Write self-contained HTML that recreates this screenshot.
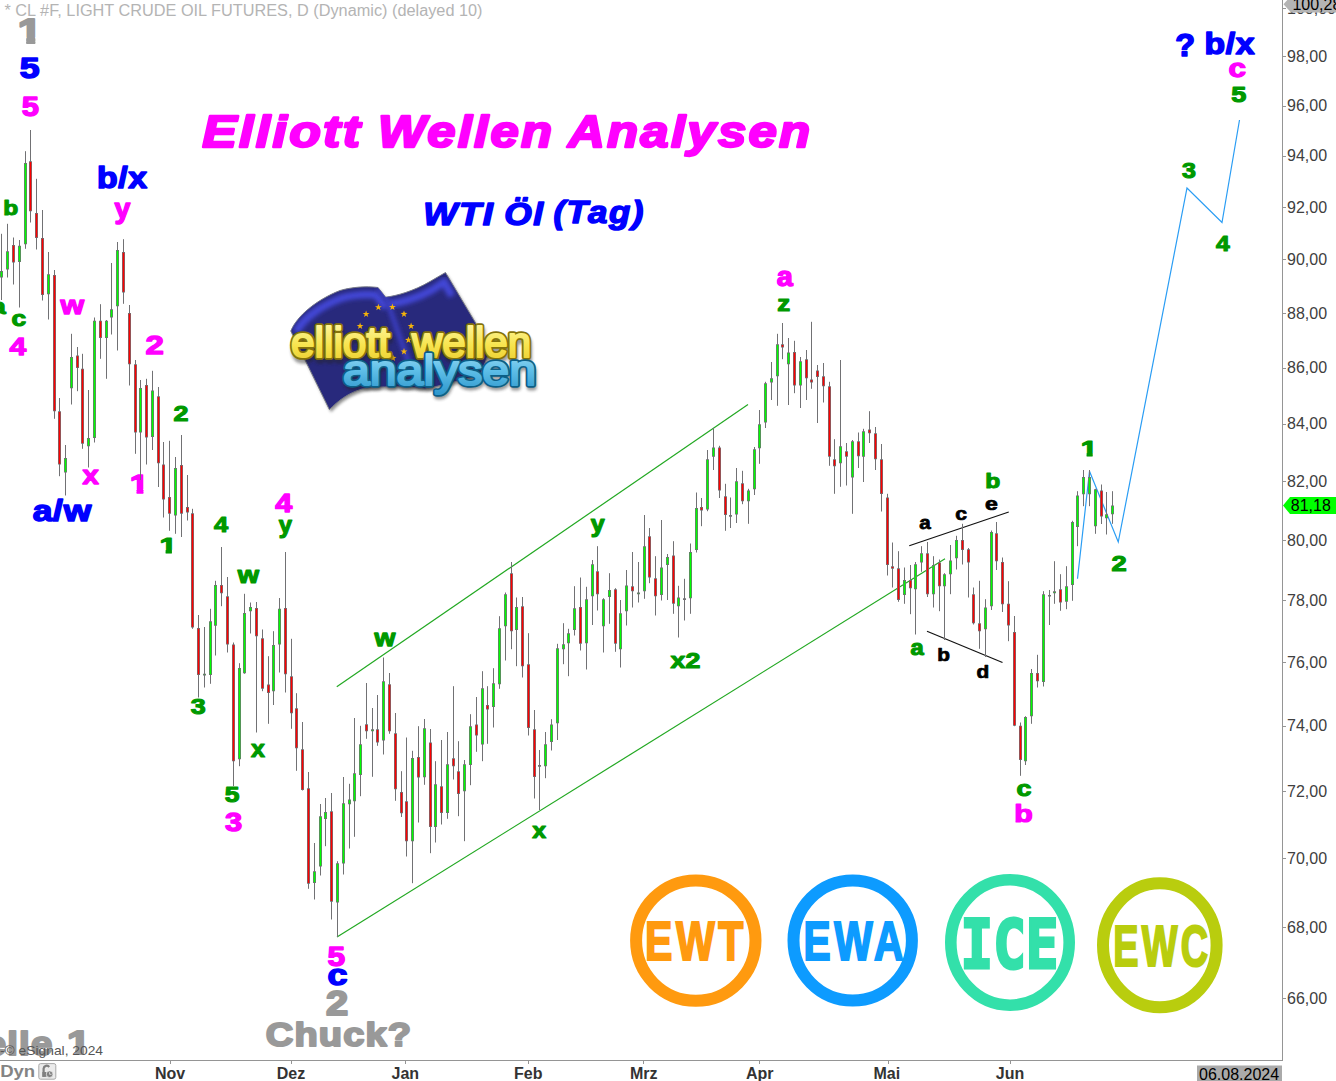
<!DOCTYPE html>
<html><head><meta charset="utf-8"><title>Elliott Wellen Analysen - WTI Öl (Tag)</title>
<style>html,body{margin:0;padding:0;background:#fff;overflow:hidden}svg{display:block}text{font-family:"Liberation Sans",sans-serif}.b{font-weight:bold}.bi{font-weight:bold;font-style:italic}.ax{font-size:16px;fill:#404040}.mo{font-size:16px;font-weight:bold;fill:#333}</style></head><body>
<svg width="1336" height="1081" viewBox="0 0 1336 1081">
<rect width="1336" height="1081" fill="#fff"/>
<text x="4.5" y="15.7" font-size="15.6" fill="#b4b4b4" textLength="478" lengthAdjust="spacingAndGlyphs">* CL #F, LIGHT CRUDE OIL FUTURES, D (Dynamic) (delayed 10)</text>
<g shape-rendering="crispEdges" stroke="#959595" stroke-width="1">
<line x1="1282.5" y1="0" x2="1282.5" y2="1060"/>
<line x1="0" y1="1060.5" x2="1283" y2="1060.5"/>
<line x1="1283" y1="998.5" x2="1286" y2="998.5"/>
<line x1="1283" y1="927.5" x2="1286" y2="927.5"/>
<line x1="1283" y1="858.5" x2="1286" y2="858.5"/>
<line x1="1283" y1="791.5" x2="1286" y2="791.5"/>
<line x1="1283" y1="726.5" x2="1286" y2="726.5"/>
<line x1="1283" y1="662.5" x2="1286" y2="662.5"/>
<line x1="1283" y1="600.5" x2="1286" y2="600.5"/>
<line x1="1283" y1="540.5" x2="1286" y2="540.5"/>
<line x1="1283" y1="481.5" x2="1286" y2="481.5"/>
<line x1="1283" y1="424.5" x2="1286" y2="424.5"/>
<line x1="1283" y1="368.5" x2="1286" y2="368.5"/>
<line x1="1283" y1="313.5" x2="1286" y2="313.5"/>
<line x1="1283" y1="259.5" x2="1286" y2="259.5"/>
<line x1="1283" y1="207.5" x2="1286" y2="207.5"/>
<line x1="1283" y1="156.5" x2="1286" y2="156.5"/>
<line x1="1283" y1="106.5" x2="1286" y2="106.5"/>
<line x1="1283" y1="56.5" x2="1286" y2="56.5"/>
<line x1="170.5" y1="1061" x2="170.5" y2="1064"/>
<line x1="291.5" y1="1061" x2="291.5" y2="1064"/>
<line x1="405.5" y1="1061" x2="405.5" y2="1064"/>
<line x1="528.5" y1="1061" x2="528.5" y2="1064"/>
<line x1="643.5" y1="1061" x2="643.5" y2="1064"/>
<line x1="759.5" y1="1061" x2="759.5" y2="1064"/>
<line x1="888.5" y1="1061" x2="888.5" y2="1064"/>
<line x1="1010.5" y1="1061" x2="1010.5" y2="1064"/>
</g>
<text class="ax" x="1287" y="1004.0">66,00</text>
<text class="ax" x="1287" y="932.9">68,00</text>
<text class="ax" x="1287" y="863.8">70,00</text>
<text class="ax" x="1287" y="796.7">72,00</text>
<text class="ax" x="1287" y="731.4">74,00</text>
<text class="ax" x="1287" y="667.8">76,00</text>
<text class="ax" x="1287" y="605.9">78,00</text>
<text class="ax" x="1287" y="545.6">80,00</text>
<text class="ax" x="1287" y="486.8">82,00</text>
<text class="ax" x="1287" y="429.3">84,00</text>
<text class="ax" x="1287" y="373.3">86,00</text>
<text class="ax" x="1287" y="318.5">88,00</text>
<text class="ax" x="1287" y="264.9">90,00</text>
<text class="ax" x="1287" y="212.6">92,00</text>
<text class="ax" x="1287" y="161.3">94,00</text>
<text class="ax" x="1287" y="111.1">96,00</text>
<text class="ax" x="1287" y="62.0">98,00</text>
<text class="mo" x="170" y="1078.6" text-anchor="middle">Nov</text>
<text class="mo" x="291" y="1078.6" text-anchor="middle">Dez</text>
<text class="mo" x="405.3" y="1078.6" text-anchor="middle">Jan</text>
<text class="mo" x="528.3" y="1078.6" text-anchor="middle">Feb</text>
<text class="mo" x="643.8" y="1078.6" text-anchor="middle">Mrz</text>
<text class="mo" x="759.8" y="1078.6" text-anchor="middle">Apr</text>
<text class="mo" x="886.8" y="1078.6" text-anchor="middle">Mai</text>
<text class="mo" x="1010" y="1078.6" text-anchor="middle">Jun</text>
<g fill="none">
<path d="M336.75 686.75L748 404.5" stroke="#22a822" stroke-width="1.2"/>
<path d="M337 937L945 558.75" stroke="#22a822" stroke-width="1.2"/>
<path d="M909.25 545.75L1008.75 512" stroke="#111" stroke-width="1.2"/>
<path d="M927 631.25L1002.5 662.5" stroke="#111" stroke-width="1.2"/>
<path d="M1077.5 578.75L1089.5 471.25L1118.25 542L1187 188L1222 222.5L1239.5 120" stroke="#2a9df4" stroke-width="1.2" stroke-linejoin="miter"/>
</g>
<g id="labels" stroke-linejoin="round">
<clipPath id="c1_3_0"><path d="M-10 -60H80V-8.3H20.2V12H9.8V-8.3H-10Z"/></clipPath>
<text class="b" transform="matrix(0.8667 0 0 0.6933 17.77 42.96)" font-size="50" fill="#999999" clip-path="url(#c1_3_0)" stroke="#999999" stroke-width="3.0">1</text>
<text class="b" transform="matrix(0.8472 0 0 0.6693 67.06 1054.30)" font-size="50" fill="#999999" clip-path="url(#c1_3_0)" stroke="#999999" stroke-width="3.0">1</text>
<text class="b" transform="matrix(0.7964 0 0 0.6868 326.00 1015.07)" font-size="50" fill="#999999" stroke="#999999" stroke-width="3.0">2</text>
<text class="b" transform="matrix(0.7606 0 0 0.6646 265.87 1046.17)" font-size="50" fill="#999999" stroke="#999999" stroke-width="3.0" letter-spacing="1.5">Chuck?</text>
<text class="b" transform="matrix(0.7130 0 0 0.6081 19.64 77.84)" font-size="50" fill="#0000ff" stroke="#0000ff" stroke-width="2.6">5</text>
<text class="b" transform="matrix(0.6747 0 0 0.5759 96.90 187.60)" font-size="50" fill="#0000ff" stroke="#0000ff" stroke-width="2.6" letter-spacing="1.0">b/x</text>
<text class="b" transform="matrix(0.7083 0 0 0.6025 32.70 521.29)" font-size="50" fill="#0000ff" stroke="#0000ff" stroke-width="2.6" letter-spacing="1.0">a/w</text>
<text class="b" transform="matrix(0.7185 0 0 0.5797 327.54 985.23)" font-size="50" fill="#0000ff" stroke="#0000ff" stroke-width="2.6">c</text>
<text class="b" transform="matrix(0.6464 0 0 0.6270 1175.35 56.27)" font-size="50" fill="#0000ff" stroke="#0000ff" stroke-width="2.6">?</text>
<text class="b" transform="matrix(0.6726 0 0 0.5848 1204.45 53.83)" font-size="50" fill="#0000ff" stroke="#0000ff" stroke-width="2.6" letter-spacing="1.0">b/x</text>
<text class="b" transform="matrix(0.6185 0 0 0.5459 21.79 116.38)" font-size="50" fill="#ff00ff" stroke="#ff00ff" stroke-width="2.6">5</text>
<text class="b" transform="matrix(0.5700 0 0 0.5410 114.57 217.78)" font-size="50" fill="#ff00ff" stroke="#ff00ff" stroke-width="2.6">y</text>
<text class="b" transform="matrix(0.6071 0 0 0.5018 60.41 314.00)" font-size="50" fill="#ff00ff" stroke="#ff00ff" stroke-width="2.6">w</text>
<text class="b" transform="matrix(0.6017 0 0 0.4932 9.55 354.51)" font-size="50" fill="#ff00ff" stroke="#ff00ff" stroke-width="2.6">4</text>
<text class="b" transform="matrix(0.6604 0 0 0.5270 145.42 354.47)" font-size="50" fill="#ff00ff" stroke="#ff00ff" stroke-width="2.6">2</text>
<text class="b" transform="matrix(0.5833 0 0 0.5263 82.58 484.07)" font-size="50" fill="#ff00ff" stroke="#ff00ff" stroke-width="2.6">x</text>
<clipPath id="c1_2_6"><path d="M-10 -60H80V-8.1H20.0V12H10.0V-8.1H-10Z"/></clipPath>
<text class="b" transform="matrix(0.6818 0 0 0.5189 129.75 493.08)" font-size="50" fill="#ff00ff" clip-path="url(#c1_2_6)" stroke="#ff00ff" stroke-width="2.6">1</text>
<text class="b" transform="matrix(0.6102 0 0 0.5137 275.31 511.99)" font-size="50" fill="#ff00ff" stroke="#ff00ff" stroke-width="2.6">4</text>
<text class="b" transform="matrix(0.6182 0 0 0.5132 225.00 830.97)" font-size="50" fill="#ff00ff" stroke="#ff00ff" stroke-width="2.6">3</text>
<text class="b" transform="matrix(0.6333 0 0 0.5405 327.58 966.19)" font-size="50" fill="#ff00ff" stroke="#ff00ff" stroke-width="2.6">5</text>
<text class="b" transform="matrix(0.5763 0 0 0.5424 776.80 285.79)" font-size="50" fill="#ff00ff" stroke="#ff00ff" stroke-width="2.6">a</text>
<text class="b" transform="matrix(0.6071 0 0 0.4808 1014.29 821.78)" font-size="50" fill="#ff00ff" stroke="#ff00ff" stroke-width="2.6">b</text>
<text class="b" transform="matrix(0.6296 0 0 0.5119 1228.59 77.23)" font-size="50" fill="#ff00ff" stroke="#ff00ff" stroke-width="2.6">c</text>
<text class="b" transform="matrix(0.4911 0 0 0.4038 3.27 215.14)" font-size="50" fill="#009900" stroke="#009900" stroke-width="2.6">b</text>
<text class="b" transform="matrix(0.5119 0 0 0.4475 -8.50 313.73)" font-size="50" fill="#009900" stroke="#009900" stroke-width="2.6">a</text>
<text class="b" transform="matrix(0.5278 0 0 0.4237 11.49 325.61)" font-size="50" fill="#009900" stroke="#009900" stroke-width="2.6">c</text>
<text class="b" transform="matrix(0.5377 0 0 0.4527 173.48 420.80)" font-size="50" fill="#009900" stroke="#009900" stroke-width="2.6">2</text>
<text class="b" transform="matrix(0.6250 0 0 0.4380 159.38 553.18)" font-size="50" fill="#009900" clip-path="url(#c1_2_6)" stroke="#009900" stroke-width="2.6">1</text>
<text class="b" transform="matrix(0.5085 0 0 0.4452 214.00 532.05)" font-size="50" fill="#009900" stroke="#009900" stroke-width="2.6">4</text>
<text class="b" transform="matrix(0.5476 0 0 0.4649 237.82 583.29)" font-size="50" fill="#009900" stroke="#009900" stroke-width="2.6">w</text>
<text class="b" transform="matrix(0.4750 0 0 0.4615 278.73 532.69)" font-size="50" fill="#009900" stroke="#009900" stroke-width="2.6">y</text>
<text class="b" transform="matrix(0.5364 0 0 0.4408 190.75 714.12)" font-size="50" fill="#009900" stroke="#009900" stroke-width="2.6">3</text>
<text class="b" transform="matrix(0.5000 0 0 0.4649 251.00 756.54)" font-size="50" fill="#009900" stroke="#009900" stroke-width="2.6">x</text>
<text class="b" transform="matrix(0.5278 0 0 0.4392 224.74 801.84)" font-size="50" fill="#009900" stroke="#009900" stroke-width="2.6">5</text>
<text class="b" transform="matrix(0.5357 0 0 0.4825 374.55 645.77)" font-size="50" fill="#009900" stroke="#009900" stroke-width="2.6">w</text>
<text class="b" transform="matrix(0.5000 0 0 0.4561 532.25 837.54)" font-size="50" fill="#009900" stroke="#009900" stroke-width="2.6">x</text>
<text class="b" transform="matrix(0.5000 0 0 0.4795 590.70 531.69)" font-size="50" fill="#009900" stroke="#009900" stroke-width="2.6">y</text>
<text class="b" transform="matrix(0.5357 0 0 0.4324 670.54 667.57)" font-size="50" fill="#009900" stroke="#009900" stroke-width="2.6">x2</text>
<text class="b" transform="matrix(0.5167 0 0 0.4351 777.14 310.56)" font-size="50" fill="#009900" stroke="#009900" stroke-width="2.6">z</text>
<text class="b" transform="matrix(0.4911 0 0 0.4167 985.27 488.12)" font-size="50" fill="#009900" stroke="#009900" stroke-width="2.6">b</text>
<text class="b" transform="matrix(0.4746 0 0 0.4407 910.50 654.84)" font-size="50" fill="#009900" stroke="#009900" stroke-width="2.6">a</text>
<text class="b" transform="matrix(0.5370 0 0 0.4237 1016.48 796.36)" font-size="50" fill="#009900" stroke="#009900" stroke-width="2.6">c</text>
<text class="b" transform="matrix(0.5966 0 0 0.4313 1080.69 456.44)" font-size="50" fill="#009900" clip-path="url(#c1_2_6)" stroke="#009900" stroke-width="2.6">1</text>
<text class="b" transform="matrix(0.5472 0 0 0.4527 1111.48 570.80)" font-size="50" fill="#009900" stroke="#009900" stroke-width="2.6">2</text>
<text class="b" transform="matrix(0.5000 0 0 0.4276 1182.00 177.89)" font-size="50" fill="#009900" stroke="#009900" stroke-width="2.6">3</text>
<text class="b" transform="matrix(0.4915 0 0 0.4315 1216.00 250.82)" font-size="50" fill="#009900" stroke="#009900" stroke-width="2.6">4</text>
<text class="b" transform="matrix(0.5407 0 0 0.4595 1231.33 102.31)" font-size="50" fill="#009900" stroke="#009900" stroke-width="2.6">5</text>
<text class="b" transform="matrix(0.4123 0 0 0.3814 919.29 529.43)" font-size="50" fill="#000000" stroke="#000000" stroke-width="2.0">a</text>
<text class="b" transform="matrix(0.4245 0 0 0.3559 955.33 519.97)" font-size="50" fill="#000000" stroke="#000000" stroke-width="2.0">c</text>
<text class="b" transform="matrix(0.4615 0 0 0.3644 985.04 510.20)" font-size="50" fill="#000000" stroke="#000000" stroke-width="2.0">e</text>
<text class="b" transform="matrix(0.4167 0 0 0.3701 937.21 661.19)" font-size="50" fill="#000000" stroke="#000000" stroke-width="2.0">b</text>
<text class="b" transform="matrix(0.4167 0 0 0.3636 976.58 677.70)" font-size="50" fill="#000000" stroke="#000000" stroke-width="2.0">d</text>
<text class="bi" transform="matrix(1.0370 0 0 0.9000 202.27 147.15)" font-size="50" fill="#ff00ff" stroke="#ff00ff" stroke-width="2.6" letter-spacing="2.2">Elliott</text>
<text class="bi" transform="matrix(1.0161 0 0 0.9000 377.96 147.15)" font-size="50" fill="#ff00ff" stroke="#ff00ff" stroke-width="2.6" letter-spacing="2.2">Wellen</text>
<text class="bi" transform="matrix(1.0192 0 0 0.9061 567.95 147.38)" font-size="50" fill="#ff00ff" stroke="#ff00ff" stroke-width="2.6" letter-spacing="2.2">Analysen</text>
<text class="bi" transform="matrix(0.7246 0 0 0.6274 423.19 225.27)" font-size="50" fill="#0000ff" stroke="#0000ff" stroke-width="2.4" letter-spacing="2.2">WTI</text>
<text class="bi" transform="matrix(0.7063 0 0 0.6374 504.24 225.24)" font-size="50" fill="#0000ff" stroke="#0000ff" stroke-width="2.4" letter-spacing="2.2">Öl</text>
<text class="bi" transform="matrix(0.6965 0 0 0.6224 553.40 222.84)" font-size="50" fill="#0000ff" stroke="#0000ff" stroke-width="2.4" letter-spacing="2.2">(Tag)</text>
<text class="b" transform="matrix(0.7682 0 0 0.6773 53.4 1055.26)" text-anchor="end" font-size="50" fill="#999999" stroke="#999999" stroke-width="3.0" letter-spacing="1.5">Welle</text>
</g>
<g id="candles">
<path d="M1.5 233.8V300.0M7.5 223.8V277.5M13.5 237.5V284.5M19.5 240.0V307.5M25.5 151.2V248.8M30.5 130.0V222.5M36.5 178.8V249.5M42.5 210.0V300.5M48.5 252.0V319.5M54.5 270.0V418.8M59.5 398.0V476.2M65.5 445.0V495.5M71.5 333.8V404.5M77.5 347.0V391.2M82.5 353.8V448.8M88.5 390.0V467.5M94.5 317.5V442.5M100.5 304.2V358.8M106.5 320.0V378.8M111.5 263.0V334.5M117.5 242.0V350.5M123.5 239.2V303.8M129.5 305.0V385.5M135.5 360.0V453.8M140.5 380.0V480.0M146.5 378.8V464.5M152.5 370.8V450.0M158.5 387.0V487.0M163.5 442.0V517.5M169.5 440.8V530.8M175.5 457.0V533.8M181.5 435.0V537.0M187.5 475.0V520.5M192.5 508.8V628.8M198.5 615.0V697.5M204.5 627.0V687.5M210.5 608.8V683.8M215.5 580.8V655.5M221.5 547.0V606.2M227.5 577.0V652.5M233.5 642.5V786.2M239.5 663.2V766.2M244.5 593.8V673.8M250.5 602.5V633.5M256.5 602.0V732.5M262.5 629.5V691.2M268.5 656.2V723.8M273.5 631.2V705.0M279.5 598.0V672.5M285.5 552.0V692.5M291.5 638.8V728.8M296.5 693.2V770.8M302.5 722.0V790.5M308.5 772.0V888.8M314.5 843.0V899.5M320.5 804.0V875.5M325.5 798.0V846.2M331.5 793.0V919.5M337.5 861.2V937.0M343.5 777.0V874.5M349.5 783.8V848.5M354.5 718.0V836.8M360.5 725.8V796.2M366.5 683.0V738.8M372.5 708.0V776.8M377.5 695.0V745.8M383.5 657.5V754.5M389.5 673.0V733.8M395.5 713.0V800.8M401.5 771.2V817.0M406.5 737.5V856.5M412.5 750.8V883.2M418.5 726.2V822.5M424.5 719.0V784.8M430.5 729.0V853.2M435.5 761.2V842.5M441.5 740.0V824.5M447.5 732.0V818.8M453.5 686.2V779.5M458.5 741.2V816.2M464.5 760.0V841.2M470.5 714.2V785.2M476.5 697.0V751.8M482.5 671.2V761.2M487.5 686.2V743.8M493.5 668.2V727.5M499.5 616.2V688.8M505.5 592.5V660.5M511.5 562.0V649.2M516.5 597.5V666.2M522.5 597.0V677.5M528.5 633.2V735.5M534.5 710.0V798.5M539.5 750.0V810.0M545.5 732.0V778.2M551.5 719.2V750.5M557.5 643.8V740.0M563.5 623.2V664.2M568.5 628.8V676.2M574.5 586.2V635.5M580.5 577.5V650.5M586.5 586.8V669.5M592.5 560.0V625.0M597.5 546.2V610.5M603.5 598.2V652.5M609.5 573.2V623.8M615.5 588.2V651.8M620.5 600.0V667.5M626.5 570.0V625.5M632.5 552.0V607.5M638.5 562.0V602.5M644.5 515.0V598.8M649.5 528.0V583.2M655.5 556.2V615.5M661.5 520.0V600.5M667.5 554.0V600.0M673.5 541.2V613.8M678.5 585.8V637.5M684.5 578.8V620.5M690.5 543.5V613.8M696.5 492.5V552.5M701.5 498.0V526.2M707.5 450.0V511.2M713.5 428.0V470.0M719.5 445.8V498.0M725.5 483.8V530.8M730.5 497.5V528.0M736.5 468.0V523.0M742.5 470.8V504.2M748.5 488.8V523.8M754.5 447.0V495.0M759.5 410.0V463.8M765.5 381.8V428.0M771.5 362.0V400.0M777.5 333.8V405.8M782.5 323.0V359.2M788.5 338.0V405.0M794.5 340.8V393.2M800.5 357.0V408.0M806.5 350.0V400.0M811.5 321.8V388.8M817.5 365.0V423.0M823.5 363.0V402.5M829.5 381.8V465.8M834.5 439.2V493.8M840.5 360.0V486.8M846.5 443.0V485.5M852.5 440.0V513.8M858.5 432.5V468.0M863.5 428.8V482.0M869.5 411.2V443.0M875.5 427.0V470.0M881.5 444.0V511.5M887.5 493.8V575.5M892.5 542.5V587.5M898.5 551.2V601.8M904.5 567.5V603.8M910.5 565.0V614.2M915.5 562.0V634.5M921.5 546.2V571.8M927.5 542.0V597.0M933.5 556.2V607.5M939.5 559.5V611.2M944.5 573.2V640.0M950.5 545.0V594.2M956.5 535.8V569.5M962.5 523.8V564.5M968.5 548.0V597.5M973.5 587.5V624.5M979.5 580.8V648.8M985.5 599.2V657.0M991.5 530.5V610.0M996.5 522.0V570.0M1002.5 557.5V612.0M1008.5 581.2V641.2M1014.5 616.0V726.2M1020.5 722.5V775.8M1025.5 716.2V765.0M1031.5 669.0V723.8M1037.5 654.8V687.5M1043.5 591.2V686.5M1049.5 590.0V625.0M1054.5 561.2V603.8M1060.5 574.2V610.8M1066.5 566.2V609.2M1072.5 520.8V600.8M1077.5 491.2V546.2M1083.5 470.0V506.2M1089.5 470.0V506.2M1095.5 488.8V533.8M1101.5 484.5V524.0M1106.5 492.0V534.5M1112.5 491.2V523.8" stroke="#717174" stroke-width="1" fill="none"/>
<path d="M1.5 271.0V277.5M7.5 251.2V269.5M13.5 245.0V262.5M19.5 245.8V262.0M25.5 163.0V244.2M30.5 161.2V211.2M36.5 213.0V238.0M42.5 238.0V295.0M48.5 274.2V294.2M54.5 275.0V411.2M59.5 411.2V464.5M65.5 458.0V472.5M71.5 357.0V388.2M77.5 355.5V368.0M82.5 368.8V443.8M88.5 438.0V446.2M94.5 320.8V438.0M100.5 320.8V338.0M106.5 320.8V338.0M111.5 309.2V317.5M117.5 250.0V306.2M123.5 252.0V292.5M129.5 313.0V364.2M135.5 364.2V432.5M140.5 388.0V432.5M146.5 385.0V437.5M152.5 390.5V437.0M158.5 396.2V463.2M163.5 464.5V499.5M169.5 497.0V513.8M175.5 468.0V515.5M181.5 465.0V513.8M187.5 507.0V512.5M192.5 513.2V627.5M198.5 628.0V675.0M204.5 673.8V675.5M210.5 621.2V675.0M215.5 585.0V625.8M221.5 585.0V593.2M227.5 596.2V644.5M233.5 644.5V761.2M239.5 668.0V759.2M244.5 613.0V673.2M250.5 607.0V611.2M256.5 608.0V636.2M262.5 638.2V688.8M268.5 684.5V693.0M273.5 645.0V691.2M279.5 608.8V644.5M285.5 608.0V674.2M291.5 676.2V713.2M296.5 708.2V748.2M302.5 749.2V790.0M308.5 788.2V883.8M314.5 871.2V883.0M320.5 816.2V866.5M325.5 812.0V819.0M331.5 811.2V901.8M337.5 863.2V902.5M343.5 803.2V863.5M349.5 799.5V804.2M354.5 773.2V801.2M360.5 744.2V775.0M366.5 724.2V731.2M372.5 729.2V731.2M377.5 729.2V742.5M383.5 681.2V740.5M389.5 684.2V731.2M395.5 733.2V789.2M401.5 792.0V813.2M406.5 801.2V841.2M412.5 758.0V841.2M418.5 757.0V777.5M424.5 728.2V777.2M430.5 742.5V827.0M435.5 784.2V827.0M441.5 786.2V813.0M447.5 764.2V813.0M453.5 758.2V766.2M458.5 771.2V794.0M464.5 764.2V791.2M470.5 726.2V765.0M476.5 724.5V735.5M482.5 688.2V744.5M487.5 705.0V709.5M493.5 683.2V707.0M499.5 628.2V684.2M505.5 594.2V626.2M511.5 573.2V631.2M516.5 607.0V630.0M522.5 606.2V666.2M528.5 664.2V728.0M534.5 729.2V777.0M539.5 765.0V766.8M545.5 744.2V766.2M551.5 724.5V742.0M557.5 648.2V723.2M563.5 644.2V649.2M568.5 633.2V643.2M574.5 608.2V630.0M580.5 607.0V643.8M586.5 599.2V643.2M592.5 564.2V596.2M597.5 571.2V594.2M603.5 599.2V626.2M609.5 590.0V597.0M615.5 589.2V643.8M620.5 613.2V649.2M626.5 585.5V611.2M632.5 586.2V591.2M638.5 592.5V594.2M644.5 546.2V591.2M649.5 536.2V577.5M655.5 578.2V596.2M661.5 567.5V595.0M667.5 557.0V565.0M673.5 555.5V603.8M678.5 597.5V606.2M684.5 598.2V599.9M690.5 552.0V598.2M696.5 508.0V550.0M701.5 507.0V510.5M707.5 459.2V509.5M713.5 447.5V456.8M719.5 447.5V490.5M725.5 496.2V515.0M730.5 515.0V516.8M736.5 481.2V514.5M742.5 483.2V501.2M748.5 490.5V501.2M754.5 449.2V489.2M759.5 424.2V448.2M765.5 383.2V422.5M771.5 378.2V382.5M777.5 344.2V376.2M782.5 344.2V347.5M788.5 352.5V364.2M794.5 352.0V385.5M800.5 361.2V385.5M806.5 359.2V378.2M811.5 379.5V382.5M817.5 370.5V377.0M823.5 376.2V386.2M829.5 386.2V456.8M834.5 459.2V466.2M840.5 446.2V463.2M846.5 451.2V456.8M852.5 441.2V477.5M858.5 441.2V456.2M863.5 431.2V456.8M869.5 429.5V433.2M875.5 433.2V459.2M881.5 459.2V494.0M887.5 497.5V565.0M892.5 566.2V568.8M898.5 568.2V600.0M904.5 580.0V595.0M910.5 580.0V588.2M915.5 564.2V589.2M921.5 553.2V562.5M927.5 553.2V594.2M933.5 565.0V594.2M939.5 562.5V586.2M944.5 574.2V586.2M950.5 560.5V574.2M956.5 540.0V558.2M962.5 540.0V550.0M968.5 549.2V562.5M973.5 594.2V623.2M979.5 623.2V631.2M985.5 607.5V629.2M991.5 532.0V606.2M996.5 533.2V561.2M1002.5 562.0V604.2M1008.5 603.8V625.5M1014.5 632.0V725.8M1020.5 725.8V760.0M1025.5 717.0V761.2M1031.5 673.0V716.2M1037.5 673.0V681.2M1043.5 594.2V682.0M1049.5 595.0V596.6M1054.5 591.2V593.2M1060.5 589.2V602.5M1066.5 586.2V601.8M1072.5 522.0V585.0M1077.5 495.5V527.0M1083.5 477.0V494.2M1089.5 477.0V494.2M1095.5 489.2V526.2M1101.5 490.5V516.5M1106.5 514.2V518.2M1112.5 505.5V514.2" stroke="#717174" stroke-width="3" fill="none"/>
<path d="M1.5 271.7V276.8M7.5 251.9V268.8M19.5 246.4V261.3M25.5 163.7V243.6M48.5 274.9V293.6M65.5 458.7V471.8M71.5 357.7V387.6M88.5 438.7V445.6M94.5 321.4V437.3M106.5 321.4V337.3M111.5 309.9V316.8M117.5 250.7V305.6M140.5 388.7V431.8M152.5 391.2V436.3M175.5 468.7V514.8M204.5 674.5V674.8M210.5 622.0V674.3M215.5 585.7V625.0M239.5 668.7V758.5M244.5 613.7V672.5M250.5 607.7V610.5M273.5 645.7V690.5M279.5 609.5V643.8M314.5 872.0V882.3M320.5 817.0V865.8M325.5 812.7V818.3M337.5 864.0V901.8M343.5 804.0V862.8M349.5 800.2V803.5M354.5 774.0V800.5M360.5 745.0V774.3M372.5 730.0V730.5M383.5 682.0V739.8M412.5 758.7V840.5M424.5 729.0V776.5M435.5 785.0V826.3M447.5 765.0V812.3M464.5 765.0V790.5M470.5 727.0V764.3M482.5 689.0V743.8M493.5 684.0V706.3M499.5 629.0V683.5M505.5 595.0V625.5M516.5 607.7V629.3M545.5 745.0V765.5M551.5 725.2V741.3M557.5 649.0V722.5M563.5 645.0V648.5M568.5 634.0V642.5M574.5 609.0V629.3M586.5 600.0V642.5M592.5 565.0V595.5M603.5 600.0V625.5M609.5 590.7V596.3M620.5 614.0V648.5M626.5 586.2V610.5M638.5 593.2V593.5M644.5 547.0V590.5M661.5 568.2V594.3M667.5 557.7V564.3M678.5 598.2V605.5M690.5 552.7V597.5M696.5 508.7V549.3M707.5 459.9V508.8M713.5 448.2V456.1M736.5 481.9V513.8M748.5 491.2V500.6M754.5 449.9V488.6M759.5 424.9V447.6M765.5 383.9V421.8M771.5 378.9V381.8M777.5 344.9V375.6M788.5 353.2V363.6M800.5 361.9V384.8M840.5 446.9V462.6M852.5 441.9V476.8M863.5 431.9V456.1M904.5 580.7V594.3M915.5 565.0V588.5M921.5 554.0V561.8M933.5 565.7V593.5M944.5 575.0V585.5M950.5 561.2V573.5M956.5 540.7V557.5M985.5 608.2V628.5M991.5 532.7V605.5M1025.5 717.7V760.5M1031.5 673.7V715.5M1043.5 595.0V681.3M1054.5 592.0V592.5M1066.5 587.0V601.0M1072.5 522.7V584.3M1077.5 496.2V526.3M1083.5 477.7V493.6M1089.5 477.7V493.6M1095.5 489.9V525.5M1106.5 515.0V517.5M1112.5 506.2V513.5" stroke="#00ff00" stroke-width="1.5" fill="none"/>
<path d="M13.5 245.7V261.8M30.5 161.9V210.6M36.5 213.7V237.3M42.5 238.7V294.3M54.5 275.7V410.6M59.5 411.9V463.8M77.5 356.2V367.3M82.5 369.4V443.1M100.5 321.4V337.3M123.5 252.7V291.8M129.5 313.7V363.6M135.5 364.9V431.8M146.5 385.7V436.8M158.5 396.9V462.6M163.5 465.2V498.8M169.5 497.7V513.0M181.5 465.7V513.0M187.5 507.7V511.8M192.5 514.0V626.8M198.5 628.7V674.3M221.5 585.7V592.5M227.5 597.0V643.8M233.5 645.2V760.5M256.5 608.7V635.5M262.5 639.0V688.0M268.5 685.2V692.3M285.5 608.7V673.5M291.5 677.0V712.5M296.5 709.0V747.5M302.5 750.0V789.3M308.5 789.0V883.0M331.5 812.0V901.0M366.5 725.0V730.5M377.5 730.0V741.8M389.5 685.0V730.5M395.5 734.0V788.5M401.5 792.7V812.5M406.5 802.0V840.5M418.5 757.7V776.8M430.5 743.2V826.3M441.5 787.0V812.3M453.5 759.0V765.5M458.5 772.0V793.3M476.5 725.2V734.8M487.5 705.7V708.8M511.5 574.0V630.5M522.5 607.0V665.5M528.5 665.0V727.3M534.5 730.0V776.3M580.5 607.7V643.0M597.5 572.0V593.5M615.5 590.0V643.0M632.5 587.0V590.5M649.5 537.0V576.8M655.5 579.0V595.5M673.5 556.2V603.0M701.5 507.7V509.8M719.5 448.2V489.8M725.5 496.9V514.3M742.5 483.9V500.6M782.5 344.9V346.8M794.5 352.7V384.8M806.5 359.9V377.6M811.5 380.2V381.8M817.5 371.2V376.3M823.5 376.9V385.6M829.5 386.9V456.1M834.5 459.9V465.6M846.5 451.9V456.1M858.5 441.9V455.6M869.5 430.2V432.6M875.5 433.9V458.6M881.5 459.9V493.3M887.5 498.2V564.3M892.5 567.0V568.0M898.5 569.0V599.3M910.5 580.7V587.5M927.5 554.0V593.5M939.5 563.2V585.5M962.5 540.7V549.3M968.5 550.0V561.8M973.5 595.0V622.5M979.5 624.0V630.5M996.5 534.0V560.5M1002.5 562.7V603.5M1008.5 604.5V624.8M1014.5 632.7V725.0M1020.5 726.5V759.3M1037.5 673.7V680.5M1060.5 590.0V601.8M1101.5 491.2V515.8" stroke="#ff0000" stroke-width="1.5" fill="none"/>
</g>
<g id="logo">
<defs>
<linearGradient id="gy" x1="0" y1="0" x2="0" y2="1"><stop offset="0" stop-color="#fff9b0"/><stop offset="0.55" stop-color="#f7e44e"/><stop offset="1" stop-color="#e9c92a"/></linearGradient>
<linearGradient id="gb" x1="0" y1="0" x2="0" y2="1"><stop offset="0" stop-color="#a8e0f6"/><stop offset="0.5" stop-color="#5fbfe8"/><stop offset="1" stop-color="#2f97cc"/></linearGradient>
<filter id="bl" x="-20%" y="-20%" width="140%" height="140%"><feGaussianBlur stdDeviation="2.2"/></filter>
<filter id="sh" x="-20%" y="-20%" width="140%" height="140%"><feGaussianBlur stdDeviation="1.6"/></filter>
<clipPath id="fc"><path id="flagp" d="M290.8 331C297 316 316 300 340 290.5C352 287 366 286 378 287.5L385.6 297.2C396 296 414 291 430 281.5L445.5 272.5L475 322L490 350L480 376C460 380 440 386 425 389C405 386 380 386 362 389C348 393 338 401 329.4 409.6Z"/></clipPath>
</defs>
<path d="M290.8 331C297 316 316 300 340 290.5C352 287 366 286 378 287.5L385.6 297.2C396 296 414 291 430 281.5L445.5 272.5L475 322L490 350L480 376C460 380 440 386 425 389C405 386 380 386 362 389C348 393 338 401 329.4 409.6Z" transform="translate(1.6 2.6)" fill="#444" opacity="0.6" filter="url(#sh)"/>
<path d="M290.8 331C297 316 316 300 340 290.5C352 287 366 286 378 287.5L385.6 297.2C396 296 414 291 430 281.5L445.5 272.5L475 322L490 350L480 376C460 380 440 386 425 389C405 386 380 386 362 389C348 393 338 401 329.4 409.6Z" fill="#28297c" stroke="#777a86" stroke-width="1"/>
<g clip-path="url(#fc)">
<path d="M296 332C303 319 320 306 342 298C354 295 366 294 376 295L386 308" fill="none" stroke="#4246d6" stroke-width="7.5" filter="url(#bl)"/>
<path d="M388 304C400 303 418 298 432 290L444 282L452 296" fill="none" stroke="#4246d6" stroke-width="7.5" filter="url(#bl)"/>
<path d="M378 288L386 298L412 372" fill="none" stroke="#3a3cc0" stroke-width="5" filter="url(#bl)"/>
</g>
<g fill="#f5b40a">
<path id="st" d="M0 -3.6L0.85 -1.17L3.42 -1.11L1.37 0.45L2.12 2.91L0 1.44L-2.12 2.91L-1.37 0.45L-3.42 -1.11L-0.85 -1.17Z" transform="translate(366.1 314.1)"/>
<use href="#st" x="12.3" y="-6.7"/><use href="#st" x="26.3" y="-7"/><use href="#st" x="37.9" y="-0.1"/><use href="#st" x="45" y="12"/><use href="#st" x="42.4" y="25.9"/><use href="#st" x="37.9" y="37.5"/><use href="#st" x="26.9" y="43.9"/><use href="#st" x="-0.7" y="36.3"/><use href="#st" x="-6" y="12"/>
</g>
<g style="font-family:'DejaVu Sans','Liberation Sans',sans-serif;font-weight:normal" stroke-linejoin="round" stroke-linecap="round">
<g transform="translate(0 357.5) scale(1 1.1) translate(0 -357.5)">
<g opacity="0.45" filter="url(#sh)" fill="#222" stroke="#222" stroke-width="5">
<text x="292" y="360.5" font-size="39" textLength="99" lengthAdjust="spacingAndGlyphs">elliott</text>
<text x="413" y="360.5" font-size="39" textLength="119" lengthAdjust="spacingAndGlyphs">wellen</text>
</g>
<g fill="#85730a" stroke="#85730a" stroke-width="5.2">
<text x="291" y="357.5" font-size="39" textLength="99" lengthAdjust="spacingAndGlyphs">elliott</text>
<text x="412" y="357.5" font-size="39" textLength="119" lengthAdjust="spacingAndGlyphs">wellen</text>
</g>
<g fill="url(#gy)" stroke="url(#gy)" stroke-width="2">
<text x="291" y="357.5" font-size="39" textLength="99" lengthAdjust="spacingAndGlyphs">elliott</text>
<text x="412" y="357.5" font-size="39" textLength="119" lengthAdjust="spacingAndGlyphs">wellen</text>
</g>
</g>
<g opacity="0.45" filter="url(#sh)" fill="#222" stroke="#222" stroke-width="5">
<text x="344" y="388" font-size="43" textLength="193" lengthAdjust="spacingAndGlyphs">analysen</text>
</g>
<g fill="#0c5f86" stroke="#0c5f86" stroke-width="5.4">
<text x="343" y="385" font-size="43" textLength="193" lengthAdjust="spacingAndGlyphs">analysen</text>
</g>
<g fill="url(#gb)" stroke="url(#gb)" stroke-width="2.2">
<text x="343" y="385" font-size="43" textLength="193" lengthAdjust="spacingAndGlyphs">analysen</text>
</g>
</g>
</g>

<g id="badges" fill="none" stroke-linejoin="miter">
<ellipse cx="695.8" cy="940.6" rx="59.7" ry="60.2" stroke="#ff9a0f" stroke-width="12"/>
<text class="b" x="644.9" y="960" font-size="56" fill="#ff9a0f" stroke="#ff9a0f" stroke-width="2.2" letter-spacing="5" textLength="102" lengthAdjust="spacingAndGlyphs">EWT</text>
<ellipse cx="852.7" cy="940.5" rx="59.2" ry="60" stroke="#0d9bff" stroke-width="12"/>
<text class="b" x="803.4" y="960" font-size="56" fill="#0d9bff" stroke="#0d9bff" stroke-width="2.2" letter-spacing="5" textLength="103.5" lengthAdjust="spacingAndGlyphs">EWA</text>
<ellipse cx="1010" cy="942.5" rx="59.2" ry="62.7" stroke="#33e0aa" stroke-width="11.6"/>
<text x="960.5" y="967.6" font-size="67" fill="#33e0aa" stroke="#33e0aa" stroke-width="3" style="font-family:'DejaVu Sans Mono','Liberation Mono',monospace;font-weight:bold" textLength="98" lengthAdjust="spacingAndGlyphs">ICE</text>
<ellipse cx="1159.8" cy="945.3" rx="56.8" ry="62" stroke="#b9cd0e" stroke-width="12"/>
<text class="b" x="1113.3" y="966.4" font-size="58" fill="#b9cd0e" stroke="#b9cd0e" stroke-width="2.2" letter-spacing="5" textLength="98" lengthAdjust="spacingAndGlyphs">EWC</text>
</g>

<text class="ax" x="1287" y="14.4">100,00</text>
<path d="M1283 8.5h3" stroke="#959595" shape-rendering="crispEdges"/>
<path d="M1283.5 4.2L1291 -4H1336V12.6H1291Z" fill="#b4b4b4"/>
<text x="1292.4" y="9.7" font-size="16" fill="#000">100,28</text>
<path d="M1283 505.5L1290 497H1336V514H1290Z" fill="#00ff00"/>
<text x="1290.8" y="511" font-size="16" fill="#000">81,18</text>
<rect x="1197" y="1065.5" width="85" height="16" fill="#aaaaaa"/>
<text x="1199" y="1079.5" font-size="16" fill="#000">06.08.2024</text>
<text x="0" y="1054.6" font-size="13.6" fill="#555" textLength="103" lengthAdjust="spacingAndGlyphs">-© eSignal, 2024</text>
<text class="b" x="0.2" y="1077.3" font-size="15.8" fill="#848484" textLength="35" lengthAdjust="spacingAndGlyphs">Dyn</text>
<g><rect x="38.8" y="1063.6" width="17" height="15.6" rx="1.8" fill="#ebebeb" stroke="#a8a8a8"/><path d="M43.6 1076.8v-8.2a3.1 3.1 0 0 1 5.6 -1.6" fill="none" stroke="#808080" stroke-width="2.2"/><path d="M42.3 1072h4.2v4.9h-4.2z" fill="#808080"/><circle cx="49.6" cy="1074.2" r="3.3" fill="#808080" stroke="#ebebeb" stroke-width="0.7"/><path d="M49.6 1072.2v2.1h1.9" fill="none" stroke="#ebebeb" stroke-width="0.8"/></g>
</svg></body></html>
